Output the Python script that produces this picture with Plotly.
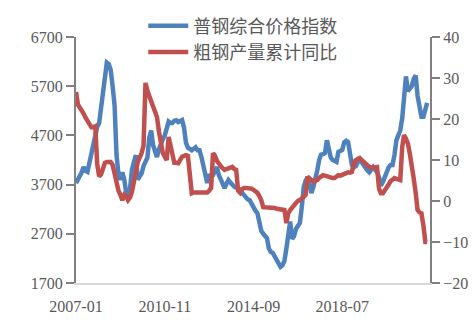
import pandas as pd
import plotly.graph_objects as go

# Monthly observations, 2007-01 onwards
months = pd.date_range("2007-01-01", periods=183, freq="MS")

# 普钢综合价格指数 (left axis)
price_index = [
    3730, 3800, 3850, 3950, 4060, 3980, 3960, 4150, 4350, 4450,
    4650, 4870, 4950, 5250, 5600, 6000, 6180, 6150, 6030, 5700,
    5300, 4300, 3900, 3800, 3950, 3800, 3550, 3450, 3600, 4000,
    4200, 4300, 3800, 3850, 3930, 4080, 4200, 4250, 4650, 4800,
    4500, 4350, 4260, 4420, 4550, 4620, 4700, 4820, 4980, 4950,
    4950, 5000, 5010, 4970, 4990, 5010, 4850, 4550, 4450, 4420,
    4400, 4430, 4460, 4400, 4400, 4260, 4057, 3850, 3732, 3880,
    3894, 3894, 3980, 4057, 3900, 3800, 3720, 3630, 3720, 3793,
    3740, 3690, 3660, 3640, 3630, 3580, 3540, 3480, 3430, 3400,
    3386, 3300, 3220, 3170, 3120, 2950, 2760, 2700, 2640, 2610,
    2400, 2330, 2310, 2240, 2166, 2100, 2030, 2060, 2150, 2400,
    2750, 2950, 2600, 2650, 2800, 2870, 2920, 3250, 3650, 3780,
    3850, 3700, 3530, 3650, 3800, 3980, 4200, 4310, 4320, 4342,
    4600, 4450, 4250, 4200, 4170, 4160, 4362, 4380, 4403, 4560,
    4590, 4565, 4300, 4098, 4050, 4080, 4150, 4199, 4160, 4100,
    4020, 3990, 3950, 3990, 4057, 4000, 3955, 3850, 3680, 3750,
    3854, 3950, 4050, 4098, 4098, 4300, 4600, 4700, 4800, 5050,
    5500, 5900, 5600, 5650, 5700, 5850, 5920, 5500, 5200, 5080,
    5080, 5200, 5360,
]

# 粗钢产量累计同比, % (right axis)
output_yoy = [
    26.6, 23.5, 22.8, 22.2, 21.3, 20.3, 19.5, 18.8, 18.0, 18.0,
    18.2, 9.0, 6.0, 6.5, 7.8, 9.3, 9.5, 9.6, 9.5, 8.8,
    6.5, 4.4, 2.5, 1.5, 0.2, 1.5, 1.2, 0.2, 0.8, 2.2,
    5.0, 7.5, 9.5, 10.6, 11.7, 13.5, 28.8, 26.8, 25.5, 24.8,
    23.5, 22.0, 20.5, 17.0, 14.0, 11.7, 10.8, 10.0, 15.6, 13.0,
    11.0, 9.3, 9.3, 9.2, 10.0, 10.8, 11.0, 11.2, 11.0, 5.0,
    1.9, 2.1, 2.1, 2.0, 2.1, 2.1, 2.0, 2.1, 2.1, 2.5,
    3.2, 11.7, 11.0, 9.8, 9.0, 8.5, 8.0, 7.6, 7.8, 8.0,
    8.3, 8.3, 7.8, 7.6, 2.5, 2.0, 2.8, 3.2, 3.2, 3.2,
    3.2, 3.0, 2.7, 2.4, 2.0, 1.2, 0.2, -1.5, -1.5, -1.5,
    -1.6, -1.6, -1.7, -1.7, -1.9, -2.0, -2.2, -2.2, -2.2, -5.4,
    -3.0, -2.2, -1.5, -1.0, -0.5, 0.0, 0.2, 0.6, 1.0, 1.5,
    5.9, 5.4, 5.0, 4.7, 4.9, 5.1, 5.6, 6.0, 6.3, 6.2,
    6.0, 5.9, 5.7, 5.6, 5.6, 6.0, 6.3, 6.2, 6.5, 6.6,
    6.8, 7.0, 6.9, 7.1, 9.5, 10.0, 10.3, 10.5, 10.0, 9.6,
    9.0, 8.5, 8.3, 8.1, 8.2, 8.3, 8.3, 3.0, 1.9, 1.9,
    2.5, 3.2, 4.0, 4.8, 5.3, 5.6, 5.4, 5.2, 5.1, 13.2,
    16.1, 15.2, 14.0, 11.5, 9.0, 5.5, 2.0, -2.2, -2.8, -3.0,
    -6.0, -10.0, -10.0,
]

x_tick_labels = ["2007-01", "2010-11", "2014-09", "2018-07"]
left_ticks = [1700, 2700, 3700, 4700, 5700, 6700]
right_ticks = [-20, -10, 0, 10, 20, 30, 40]

FONT = "Liberation Serif, Times New Roman, Noto Sans CJK SC, serif"
TEXT_GREY = "#595959"
AXIS_GREY = "#808080"

fig = go.Figure()
fig.add_trace(go.Scatter(
    x=months, y=price_index, name="普钢综合价格指数", mode="lines",
    line=dict(color="#4F81BD", width=4.5), yaxis="y",
))
fig.add_trace(go.Scatter(
    x=months, y=output_yoy, name="粗钢产量累计同比", mode="lines",
    line=dict(color="#C0504D", width=4.5), yaxis="y2",
))

fig.update_layout(
    width=476, height=324,
    margin=dict(l=76, r=46, t=37, b=41, autoexpand=False),
    paper_bgcolor="white", plot_bgcolor="white",
    font=dict(family=FONT, size=15, color=TEXT_GREY),
    showlegend=True,
    legend=dict(
        x=0.19, y=1.12, xanchor="left", yanchor="top",
        bgcolor="rgba(0,0,0,0)", font=dict(size=18, color=TEXT_GREY),
        tracegroupgap=0, itemwidth=40,
    ),
    xaxis=dict(
        type="date", automargin=False,
        range=["2007-01-01", "2022-04-15"],
        tickvals=[pd.Timestamp(t + "-01") for t in x_tick_labels],
        ticktext=x_tick_labels,
        showgrid=False, zeroline=False,
        showline=True, linecolor="#D9D9D9", linewidth=2,
        ticks="", ticklabelstandoff=8,
        tickfont=dict(size=16, color=TEXT_GREY),
    ),
    yaxis=dict(
        range=[1700, 6700], tickvals=left_ticks, automargin=False,
        showgrid=False, zeroline=False,
        showline=True, linecolor=AXIS_GREY, linewidth=2,
        ticks="outside", ticklen=8, tickwidth=2, tickcolor=AXIS_GREY,
        tickfont=dict(size=16, color=TEXT_GREY),
    ),
    yaxis2=dict(
        range=[-20, 40], tickvals=right_ticks, automargin=False,
        overlaying="y", side="right",
        showgrid=False, zeroline=False,
        showline=True, linecolor=AXIS_GREY, linewidth=2,
        ticks="outside", ticklen=8, tickwidth=2, tickcolor=AXIS_GREY,
        tickfont=dict(size=16, color=TEXT_GREY),
    ),
)

fig.write_html("out.html")
